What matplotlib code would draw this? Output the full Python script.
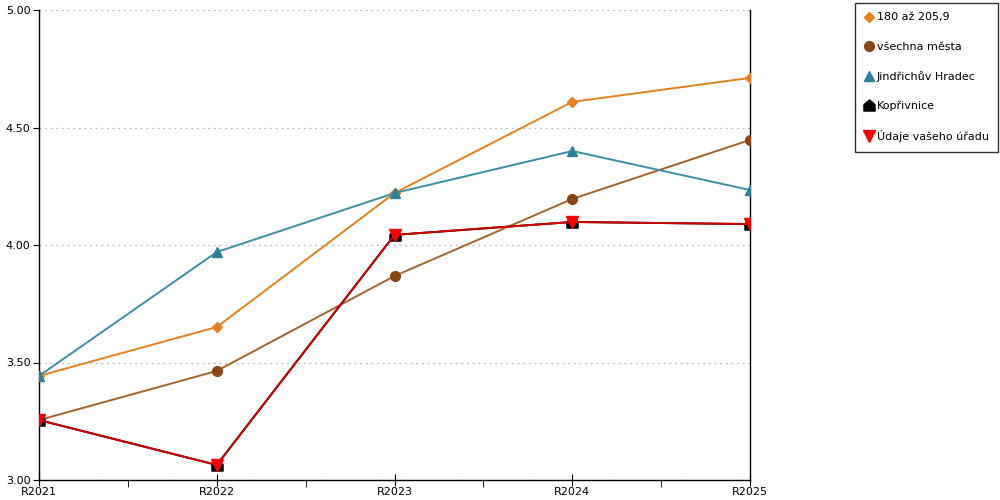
import matplotlib
matplotlib.use("Agg")
import matplotlib.pyplot as plt
from matplotlib.path import Path
import numpy as np

years = ["R2021", "R2022", "R2023", "R2024", "R2025"]
skupina = [3.443, 3.651, 4.221, 4.609, 4.711]       # 180 až 205,9
vsechna = [3.255, 3.464, 3.868, 4.196, 4.447]       # všechna města
jindrichuv = [3.443, 3.970, 4.221, 4.400, 4.234]    # Jindřichův Hradec
koprivnice = [3.255, 3.064, 4.043, 4.098, 4.089]    # Kopřivnice
urad = [3.255, 3.064, 4.043, 4.098, 4.089]          # Údaje vašeho úřadu

# house shaped marker for Kopřivnice
house = Path([(-1, -1), (1, -1), (1, 0.15), (0, 1), (-1, 0.15), (-1, -1)],
             [Path.MOVETO] + [Path.LINETO] * 4 + [Path.CLOSEPOLY])

fig = plt.figure(figsize=(10, 5), dpi=100)
ax = fig.add_axes([0.039, 0.04, 0.711, 0.94])
x = np.arange(len(years))

ax.plot(x, skupina, color="#E8801E", lw=1.4, marker="D", ms=5,
        mfc="#E8801E", mec="#E8801E", label="180 až 205,9", zorder=3)
ax.plot(x, vsechna, color="#A5642A", lw=1.4, marker="o", ms=7,
        mfc="#8B4513", mec="#8B4513", label="všechna města", zorder=3)
ax.plot(x, jindrichuv, color="#3D8FA6", lw=1.4, marker="^", ms=7,
        mfc="#2E7F98", mec="#2E7F98", label="Jindřichův Hradec", zorder=3)
ax.plot(x, koprivnice, color="black", lw=1.4, marker=house, ms=8,
        mfc="black", mec="black", label="Kopřivnice", zorder=4)
ax.plot(x, urad, color="#D40000", lw=1.4, marker="v", ms=8,
        mfc="#FF0000", mec="#FF0000", label="Údaje vašeho úřadu", zorder=5)

ax.set_xlim(0, len(years) - 1)
ax.set_ylim(3.0, 5.0)
ax.set_yticks([3.0, 3.5, 4.0, 4.5, 5.0])
ax.set_yticklabels(["3.00", "3.50", "4.00", "4.50", "5.00"])
ax.set_xticks(x)
ax.set_xticklabels(years)
ax.set_xticks(x[:-1] + 0.5, minor=True)
ax.tick_params(axis="x", which="major", direction="inout", length=8, labelsize=8, pad=1)
ax.tick_params(axis="x", which="minor", direction="out", length=5)
ax.tick_params(axis="y", direction="out", length=4, labelsize=8, pad=2)
ax.grid(axis="y", color="#BBBBBB", ls=(0, (1.5, 3)), lw=0.9)
ax.set_axisbelow(True)
ax.spines["top"].set_visible(False)
for s in ["left", "right", "bottom"]:
    ax.spines[s].set_color("black")
    ax.spines[s].set_linewidth(1)

handles, labels = ax.get_legend_handles_labels()
handles = [plt.Line2D([], [], ls="none", marker=h.get_marker(), ms=h.get_markersize(),
                      mfc=h.get_markerfacecolor(), mec=h.get_markeredgecolor())
           for h in handles]
leg = fig.legend(handles, labels, loc="upper left", bbox_to_anchor=(0.855, 0.994),
                 fontsize=8, frameon=True, fancybox=False, edgecolor="black",
                 handlelength=0.8, handletextpad=0.3, labelspacing=1.72,
                 borderpad=0.85, borderaxespad=0)
leg.get_frame().set_linewidth(1)

fig.savefig("out.png", dpi=100)
